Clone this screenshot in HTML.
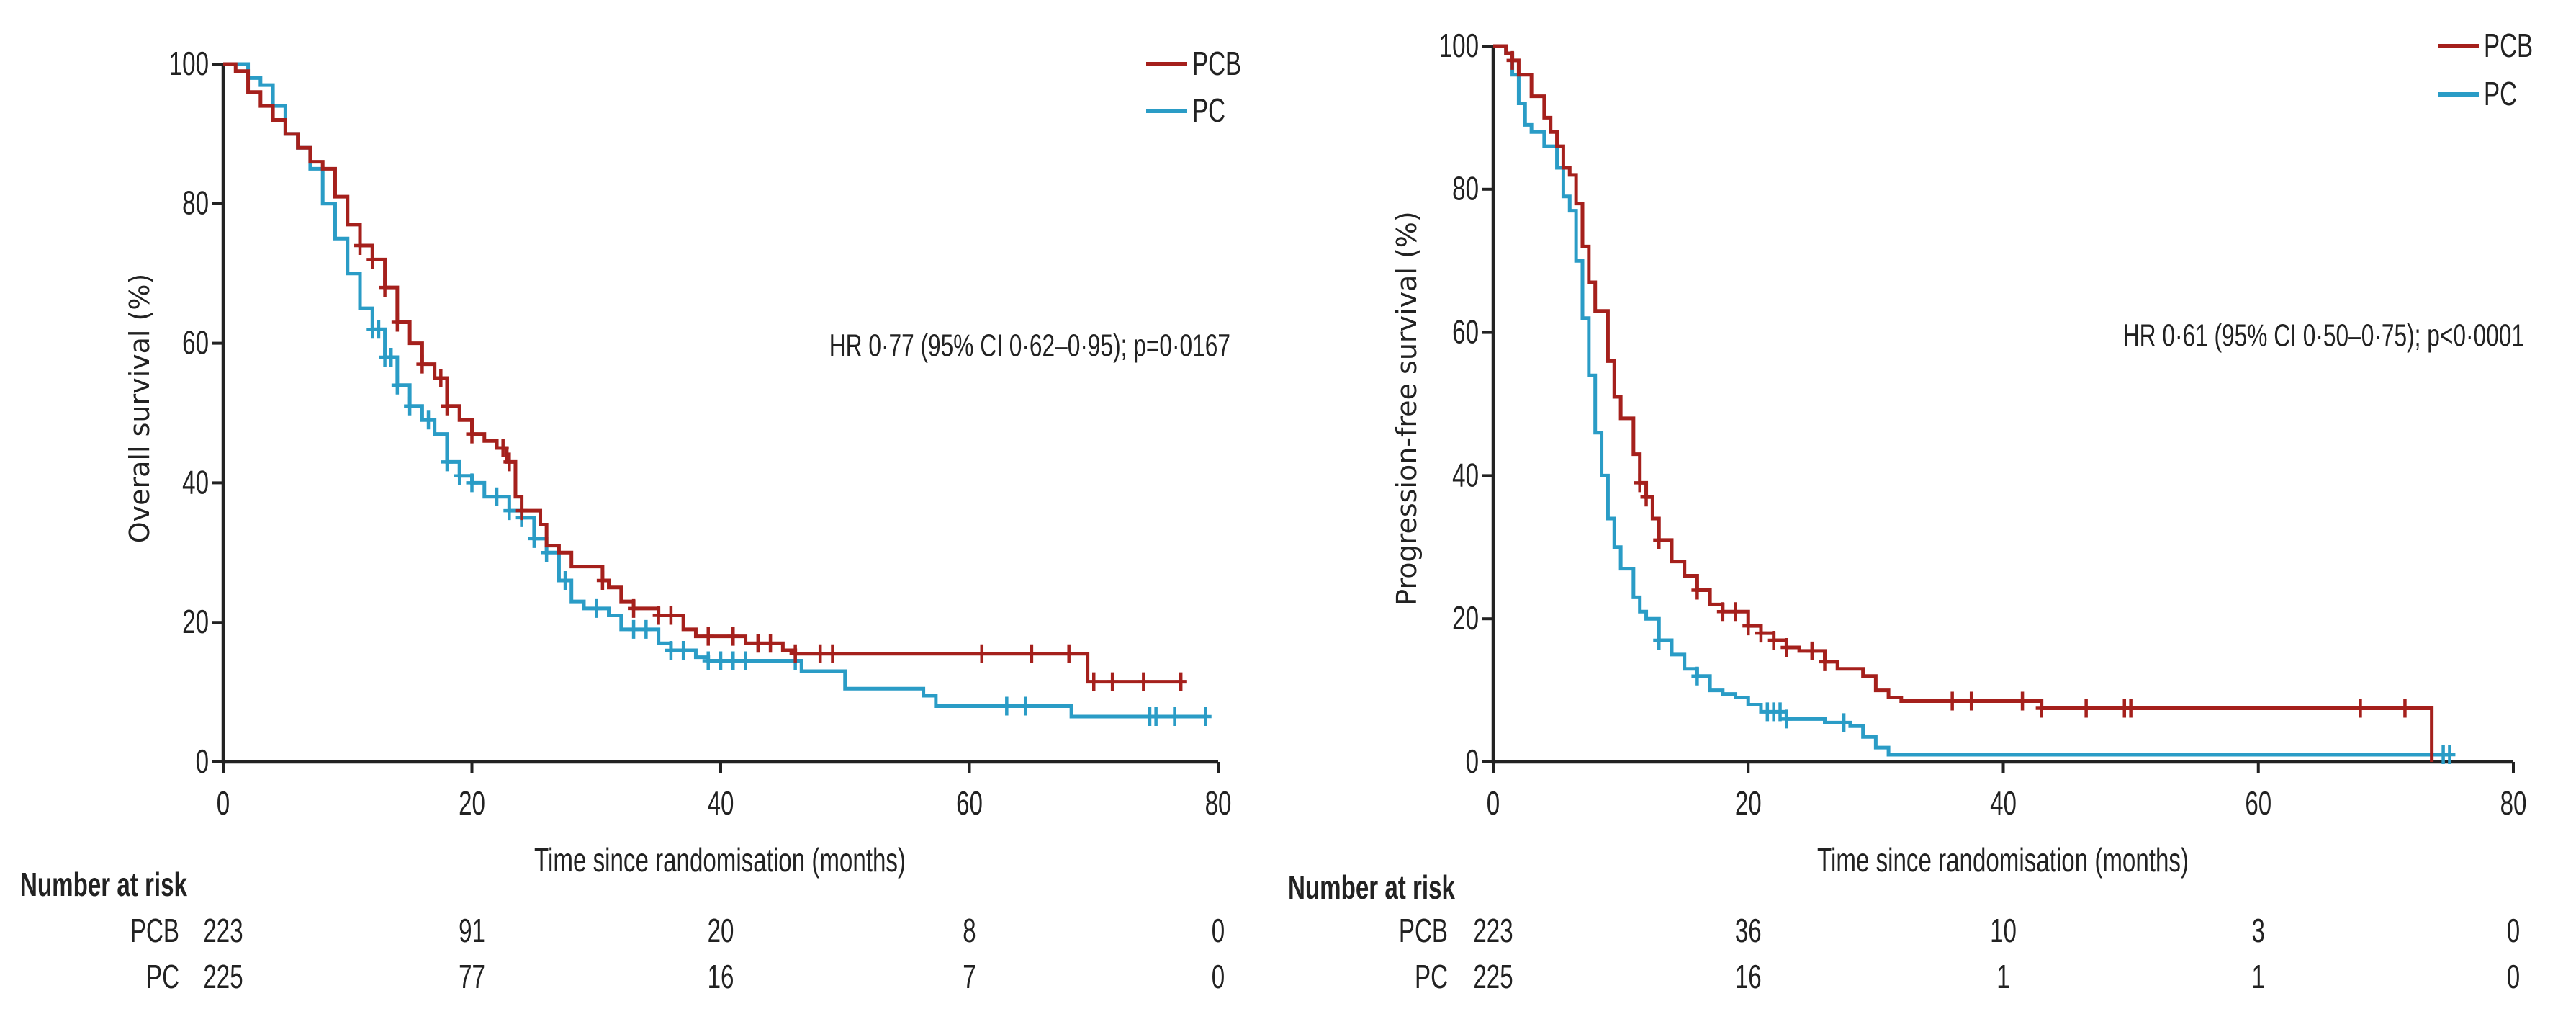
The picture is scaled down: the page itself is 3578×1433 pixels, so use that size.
<!DOCTYPE html>
<html><head><meta charset="utf-8"><style>
html,body{margin:0;padding:0;background:#fff;}
svg{display:block;font-family:"Liberation Sans",sans-serif;}
text{fill:#222;}
</style></head><body>
<svg id="svg" width="3578" height="1433" viewBox="0 0 3578 1433" xmlns="http://www.w3.org/2000/svg"></svg>
<script>
// ---- data (months, survival %) ----
const xTicks = [0, 20, 40, 60, 80];
const yTicks = [0, 20, 40, 60, 80, 100];
const osPcbT = [0,1,2,3,4,5,6,7,8,9,10,11,12,13,14,15,16,17,18,19,20,21,22,22.8,23.5,24,25.5,26,27,28,30.5,31,32,33,35,37,38,42,45,46,69.5,77.5];
const osPcbS = [100,99,96,94,92,90,88,86,85,81,77,74,72,68,63,60,57,55,51,49,47,46,45,43,38,36,34,31,30,28,26,25,23,22,21,19,18,17,16,15.5,11.5,11.5];
const osPcbC = [11,12,13,14,16,17.5,18,20,22.5,23,24,30.5,33,35,36,39,41,43,44,46,48,49,61,65,68,70,71.5,74,77];
const osPcT = [0,2,3,4,5,6,7,8,9,10,11,12,13,14,15,16,17,18,19,20,21,23,24,25,26,27,28,29,31,32,35,36,38,39,46.5,50,56.3,57.3,68.2,79];
const osPcS = [100,98,97,94,90,88,85,80,75,70,65,62,58,54,51,49,47,43,41,40,38,36,35,32,30,26,23,22,21,19,17,16,15,14.5,13,10.5,9.5,8,6.5,6.5];
const osPcC = [12,12.5,13,13.5,14,15,16.5,18,19,20,22,23,24,25,26,27.5,30,33,34,36,37,39,40,41,42,46,63,64.5,74.5,75,76.5,79];
const pfsPcbT = [0,1,1.5,2,3,4,4.5,5,5.5,6,6.5,7,7.5,8,9,9.5,10,11,11.5,12,12.5,13,14,15,16,17,18,20,21,22,23,24,26,27,29,30,31,32,43,73.6,73.6];
const pfsPcbS = [100,99,98,96,93,90,88,86,83,82,78,72,67,63,56,51,48,43,39,37,34,31,28,26,24,22,21,19,18,17,16,15.5,14,13,12,10,9,8.5,7.5,0,0];
const pfsPcbC = [1.5,11.5,12,13,16,18,19,20,21,22,23,25,26,36,37.5,41.5,43,46.5,49.5,50,68,71.5];
const pfsPcT = [0,1,1.5,2,2.5,3,4,5,5.5,6,6.5,7,7.5,8,8.5,9,9.5,10,11,11.5,12,13,14,15,16,17,18,19,20,21,23,26,28,29,30,31,75];
const pfsPcS = [100,99,96,92,89,88,86,83,79,77,70,62,54,46,40,34,30,27,23,21,20,17,15,13,12,10,9.5,9,8,7,6,5.5,5,3.5,2,1,1];
const pfsPcC = [13,16,21.5,22,22.5,23,27.5,74.5,75];
const riskPcbOS = [223,91,20,8,0], riskPcOS = [225,77,16,7,0];
const riskPcbPFS = [223,36,10,3,0], riskPcPFS = [225,16,1,1,0];

const RED = '#a5201c', BLUE = '#2a9cc6';
const SX = 0.72;
const svg = document.getElementById('svg');
const NS = 'http://www.w3.org/2000/svg';
function mk(tag, attrs, parent){const e=document.createElementNS(NS,tag);for(const k in attrs)e.setAttribute(k,attrs[k]);(parent||svg).appendChild(e);return e;}
function txt(s,x,y,anchor,size,parent,weight){const t=mk('text',{x:0,y:0,transform:`translate(${x},${y}) scale(${SX},1)`,'text-anchor':anchor,'font-size':size,'dominant-baseline':'central'},parent);if(weight)t.setAttribute('font-weight',weight);t.textContent=s;return t;}

function panel(cfg){
  const g = mk('g',{});
  
  
  const X = m => cfg.x0 + (cfg.x1-cfg.x0)*m/80;
  const Y = p => cfg.y0 - (cfg.y0-cfg.y100)*p/100;
  const ax = mk('path',{d:`M${X(0)},${Y(100)} V${Y(0)} H${X(80)}`,fill:'none',stroke:'#222','stroke-width':4.5},g);
  
  
  yTicks.forEach(v=>{
    mk('line',{x1:X(0)-16,x2:X(0),y1:Y(v),y2:Y(v),stroke:'#222','stroke-width':4},g);
    const t=txt(String(v),X(0)-20,Y(v),'end',46,g);
    
    
  });
  xTicks.forEach(v=>{
    mk('line',{x1:X(v),x2:X(v),y1:Y(0),y2:Y(0)+16,stroke:'#222','stroke-width':4},g);
    const t=txt(String(v),X(v),Y(0)+58,'middle',46,g);
    
    
  });
  function curve(T,S,C,color,nm){
    let d=`M${X(T[0])},${Y(S[0])}`;
    for(let i=1;i<T.length;i++){d+=` H${X(T[i])} V${Y(S[i])}`;}
    const p=mk('path',{d:d,fill:'none',stroke:color,'stroke-width':5},g);
    
    
    C.forEach(c=>{
      let s=S[0];for(let i=0;i<T.length;i++){if(T[i]<=c)s=S[i];}
      const m=mk('path',{d:`M${X(c)-8},${Y(s)} H${X(c)+8} M${X(c)},${Y(s)-13} V${Y(s)+13}`,stroke:color,'stroke-width':4.5},g);
      
      
    });
  }
  curve(cfg.pcT,cfg.pcS,cfg.pcC,BLUE,'pc');
  curve(cfg.pcbT,cfg.pcbS,cfg.pcbC,RED,'pcb');
  [[cfg.legY1,RED,'PCB'],[cfg.legY2,BLUE,'PC']].forEach(([yy,c,l])=>{
    const lg=mk('g',{},g);
    
    
    mk('line',{x1:cfg.legX,x2:cfg.legX+57,y1:yy,y2:yy,stroke:c,'stroke-width':6},lg);
    txt(l,cfg.legX+64,yy,'start',46,lg);
  });
  const hr=txt(cfg.hr,cfg.hrX,cfg.hrY,'end',44,g);
  
  
  const xt=txt('Time since randomisation (months)',cfg.xtX,1195,'middle',46,g);
  
  
  const yt=mk('text',{x:0,y:0,'text-anchor':'middle','dominant-baseline':'central','font-size':38,
    transform:`translate(${cfg.ytX},567) rotate(-90)`,'font-family':'"DejaVu Sans","Liberation Sans",sans-serif'},g);
  yt.textContent=cfg.ytitle;
  
  
  const nr=txt('Number at risk',cfg.nrX,cfg.nrY,'start',46,g,'bold');
  
  
  [[1293,'PCB',cfg.riskPcb],[1357,'PC',cfg.riskPc]].forEach(([yy,l,vals])=>{
    const rg=mk('g',{},g);
    
    
    txt(l,cfg.rlX,yy,'end',46,rg);
    vals.forEach((v,i)=>txt(String(v),X(xTicks[i]),yy,'middle',46,rg));
  });
}
panel({name:'overall-survival-panel',x0:310,x1:1692,y100:89,y0:1058,
  pcbT:osPcbT,pcbS:osPcbS,pcbC:osPcbC,pcT:osPcT,pcS:osPcS,pcC:osPcC,
  legX:1592,legY1:89,legY2:154,hr:'HR 0·77 (95% CI 0·62–0·95); p=0·0167',hrX:1709,hrY:480,
  xtX:1000,ytX:194,ytitle:'Overall survival (%)',nrX:28,nrY:1229,rlX:249,riskPcb:riskPcbOS,riskPc:riskPcOS});
panel({name:'progression-free-survival-panel',x0:2074,x1:3491,y100:64,y0:1058,
  pcbT:pfsPcbT,pcbS:pfsPcbS,pcbC:pfsPcbC,pcT:pfsPcT,pcS:pfsPcS,pcC:pfsPcC,
  legX:3386,legY1:64,legY2:131,hr:'HR 0·61 (95% CI 0·50–0·75); p<0·0001',hrX:3506,hrY:466,
  xtX:2782,ytX:1954,ytitle:'Progression-free survival (%)',nrX:1789,nrY:1233,rlX:2011,riskPcb:riskPcbPFS,riskPc:riskPcPFS});
</script>
</body></html>
